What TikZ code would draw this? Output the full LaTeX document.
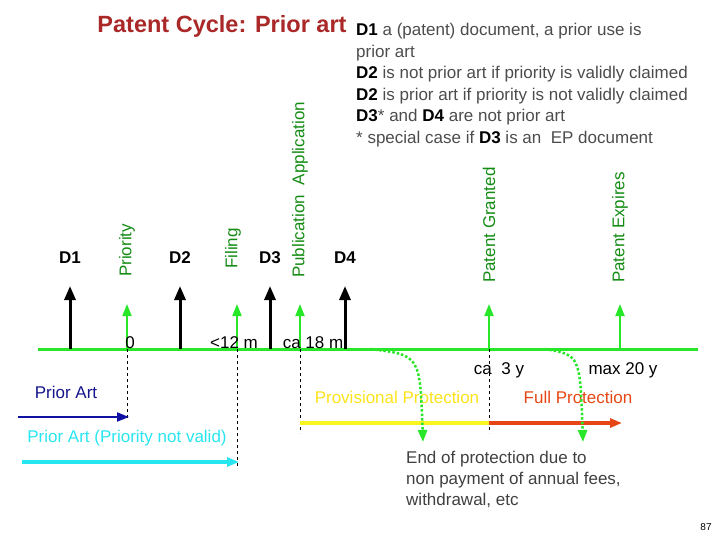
\documentclass[tikz,border=0pt]{standalone}
\usepackage{fontspec}
\setmainfont{Liberation Sans}
\usetikzlibrary{arrows.meta}
\definecolor{gr}{RGB}{40,230,40}
\definecolor{dg}{RGB}{20,140,20}
\definecolor{navy}{RGB}{20,20,140}
\definecolor{cy}{RGB}{40,230,240}
\definecolor{yl}{RGB}{250,245,30}
\definecolor{rd}{RGB}{230,70,20}
\definecolor{ttl}{RGB}{170,40,40}
\begin{document}
\begin{tikzpicture}[x=1pt,y=-1pt,
 blk/.style={line width=3pt,-{Triangle[width=11pt,length=14pt]}},
 grn/.style={gr,line width=2pt,-{Triangle[width=9pt,length=12pt]}},
 dl/.style={dashed,line width=0.5pt},
 lab/.style={font=\fontsize{17}{19}\selectfont,inner sep=1pt},
 rot/.style={lab,rotate=90,anchor=west},
 bar/.style={line width=3.5pt,-{Triangle[width=9pt,length=12pt]}},
 dot/.style={gr,line width=2.5pt,dotted,-{Triangle[width=9pt,length=12pt]}}]
\useasboundingbox (0,0) rectangle (720,540);
\coordinate (L) at (38,349); \coordinate (R) at (698,349);
\draw[gr,line width=3pt] (L) -- (R);
\foreach \n/\x in {a/70,b/180,c/270,d/345}{\coordinate (b\n) at (\x,349); \coordinate (t\n) at (\x,286); \draw[blk] (b\n) -- (t\n);}
\foreach \n/\x in {p/127,f/237,u/300,g/489,e/620}{\coordinate (g\n) at (\x,349); \coordinate (h\n) at (\x,304); \draw[grn] (g\n) -- (h\n);}
\coordinate (dp) at (127,420); \coordinate (df) at (237,468); \coordinate (du) at (300,433); \coordinate (dg) at (489,433);
\draw[dl] (gp)--(dp); \draw[dl] (gf)--(df); \draw[dl] (gu)--(du); \draw[dl] (gg)--(dg);
\node[lab] (z) at (130,343) {0};
\node[lab] (m12) at (234,343) {<12 m};
\node[lab] (m18) at (313,343) {ca 18 m};
\node[lab] (y3) at (499,370) {ca\ \ 3 y};
\node[lab] (y20) at (623,370) {max 20 y};
\node[lab,navy] (pa) at (66,392) {Prior Art};
\coordinate (pa1) at (18,417); \coordinate (pa2) at (129,417);
\draw[bar,navy!80!blue,line width=2pt] (pa1)--(pa2);
\node[lab,cy] (pan) at (127,438) {Prior Art (Priority not valid)};
\coordinate (pn1) at (22,462); \coordinate (pn2) at (239,462);
\draw[bar,cy] (pn1)--(pn2);
\node[lab,yl!85!orange] (pp) at (397,397) {Provisional Protection};
\node[lab,rd] (fp) at (578,397) {Full Protection};
\coordinate (y1) at (300,423); \coordinate (y2) at (489,423); \coordinate (r2) at (622,423);
\draw[yl,line width=3.5pt] (y1)--(y2);
\draw[bar,rd] (y2)--(r2);
\coordinate (c1) at (370,349); \coordinate (c1e) at (423,442);
\coordinate (c2) at (545,349); \coordinate (c2e) at (583,442);
\draw[dot] (c1) .. controls (420,355) .. (c1e);
\draw[dot] (c2) .. controls (580,355) .. (c2e);
\node[lab,anchor=north west,align=left,text=black!75,font=\fontsize{17}{21}\selectfont] (end) at (405,450) {End of protection due to\\non payment of annual fees,\\withdrawal, etc};
\node[font=\fontsize{10}{11}\selectfont] (pg) at (706,527) {87};
\node[lab,font=\bfseries\fontsize{17}{19}\selectfont] (D1) at (70,258) {D1};
\node[lab,font=\bfseries\fontsize{17}{19}\selectfont] (D2) at (180,258) {D2};
\node[lab,font=\bfseries\fontsize{17}{19}\selectfont] (D3) at (270,258) {D3};
\node[lab,font=\bfseries\fontsize{17}{19}\selectfont] (D4) at (345,258) {D4};
\node[rot,dg] (pr) at (127,278) {Priority};
\node[rot,dg] (fi) at (233,270) {Filing};
\node[rot,dg] (pub) at (300,279) {Publication\ \ Application};
\node[rot,dg] (pg1) at (489,284) {Patent Granted};
\node[rot,dg] (pe) at (620,284) {Patent Expires};
\node[font=\bfseries\fontsize{23.5}{26}\selectfont,ttl] (tt) at (222,26) {Patent Cycle: Prior art};
\node[anchor=north west,align=left,inner sep=0pt,text=black!70,font=\fontsize{17}{21.5}\selectfont] (txt) at (356,23) {\textcolor{black}{\textbf{D1}} a (patent) document, a prior use is\\prior art\\\textcolor{black}{\textbf{D2}} is not prior art if priority is validly claimed\\\textcolor{black}{\textbf{D2}} is prior art if priority is not validly claimed\\\textcolor{black}{\textbf{D3}}* and \textcolor{black}{\textbf{D4}} are not prior art\\* special case if \textcolor{black}{\textbf{D3}} is an\ \ EP document};
\end{tikzpicture}
\end{document}
